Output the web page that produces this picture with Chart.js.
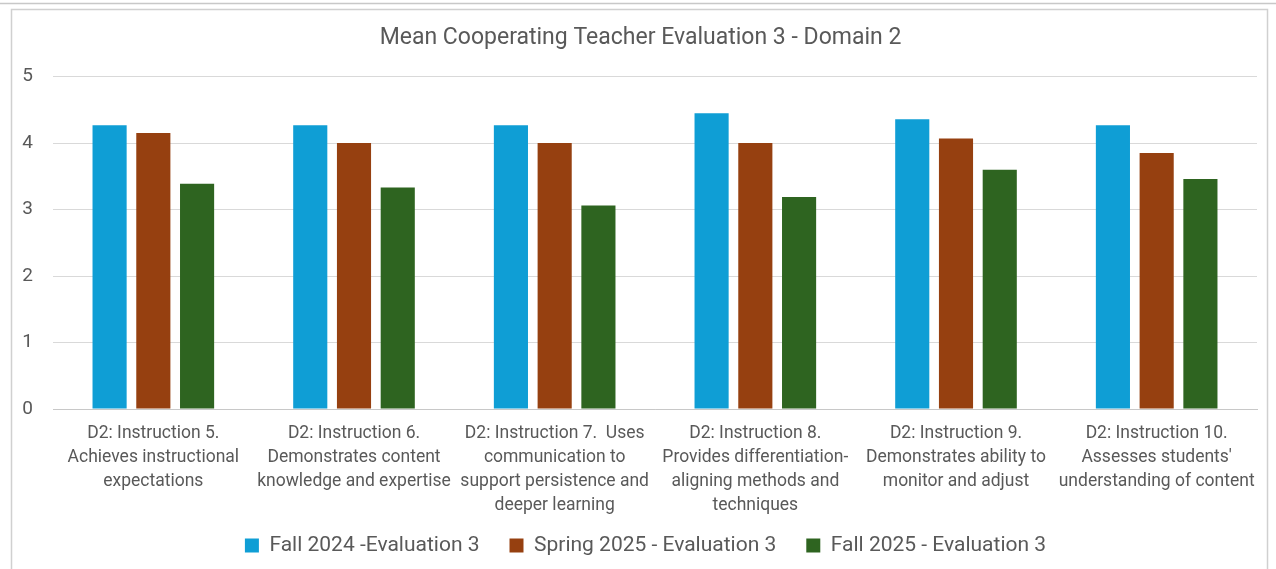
<!DOCTYPE html>
<html>
<head>
<meta charset="utf-8">
<script src="https://cdn.jsdelivr.net/npm/chart.js@4"></script>
<style>
html,body{margin:0;padding:0;background:#fff;}
#wrap{position:absolute;left:0;top:0;width:1276px;height:569px;}
</style>
</head>
<body>
<div id="wrap"><canvas id="c" width="1276" height="569"></canvas></div>
<script>
const categories = [
  ["D2: Instruction 5.", "Achieves instructional", "expectations"],
  ["D2: Instruction 6.", "Demonstrates content", "knowledge and expertise"],
  ["D2: Instruction 7.  Uses", "communication to", "support persistence and", "deeper learning"],
  ["D2: Instruction 8.", "Provides differentiation-", "aligning methods and", "techniques"],
  ["D2: Instruction 9.", "Demonstrates ability to", "monitor and adjust"],
  ["D2: Instruction 10.", "Assesses students'", "understanding of content"]
];
const seriesNames = ["Fall 2024 -Evaluation 3", "Spring 2025 - Evaluation 3", "Fall 2025 - Evaluation 3"];
const fall2024 = [4.27, 4.27, 4.27, 4.45, 4.36, 4.27];
const spring2025 = [4.15, 4.0, 4.0, 4.0, 4.07, 3.85];
const fall2025 = [3.39, 3.33, 3.06, 3.19, 3.6, 3.46];
const yTicks = [0, 1, 2, 3, 4, 5];

const colors = ["#0F9ED5", "#964010", "#2E6420"];
const font = "Roboto, 'Open Sans', sans-serif";
const grey = "#595959";

const framePlugin = {
  id: 'frame',
  beforeDraw(chart) {
    if (chart.legend) { chart.legend.left += 17; chart.legend.right += 17; }
    if (chart.titleBlock) { chart.titleBlock.left += 12; chart.titleBlock.right += 12; }
  },
  afterDraw(chart) {
    const ctx = chart.ctx;
    ctx.save();
    ctx.strokeStyle = "#d0d0d0";
    ctx.lineWidth = 1.5;
    ctx.strokeRect(11.5, 9.5, 1256, 570);
    ctx.strokeStyle = "#c8c8c8";
    ctx.beginPath();
    ctx.moveTo(0, 3.5); ctx.lineTo(1276, 3.5);
    ctx.stroke();
    ctx.restore();
  }
};

new Chart(document.getElementById('c'), {
  type: 'bar',
  data: {
    labels: categories,
    datasets: [
      { label: seriesNames[0], data: fall2024, backgroundColor: colors[0] },
      { label: seriesNames[1], data: spring2025, backgroundColor: colors[1] },
      { label: seriesNames[2], data: fall2025, backgroundColor: colors[2] }
    ]
  },
  options: {
    responsive: false,
    animation: false,
    devicePixelRatio: 1,
    categoryPercentage: 0.654,
    barPercentage: 0.78,
    layout: { padding: { top: 20, left: 0, right: 19, bottom: 3 } },
    plugins: {
      title: {
        display: true,
        text: "Mean Cooperating Teacher Evaluation 3 - Domain 2",
        color: grey,
        font: { family: font, size: 23, weight: 'normal' },
        padding: { top: 4, bottom: 25 }
      },
      legend: {
        position: 'bottom',
        labels: {
          color: grey,
          font: { family: font, size: 21 },
          boxWidth: 14,
          boxHeight: 14,
          padding: 30
        }
      },
      tooltip: { enabled: false }
    },
    scales: {
      x: {
        grid: { display: false, drawTicks: false },
        border: { display: true, color: "#c8c8c8" },
        ticks: {
          color: grey,
          font: { family: font, size: 17.5, lineHeight: 1.37 },
          maxRotation: 0, autoSkip: false, padding: 13
        },
        afterFit(s) { s.height = 96; s._computeLabelArea = () => undefined; }
      },
      y: {
        min: 0, max: 5,
        afterBuildTicks(s) { s.ticks = yTicks.map(v => ({ value: v })); },
        grid: { color: "#d9d9d9", drawTicks: false },
        border: { display: false },
        ticks: {
          color: grey,
          font: { family: font, size: 19 },
          padding: 20
        },
        afterFit(s) { s.width = 53; }
      }
    }
  },
  plugins: [framePlugin]
});
</script>
</body>
</html>
